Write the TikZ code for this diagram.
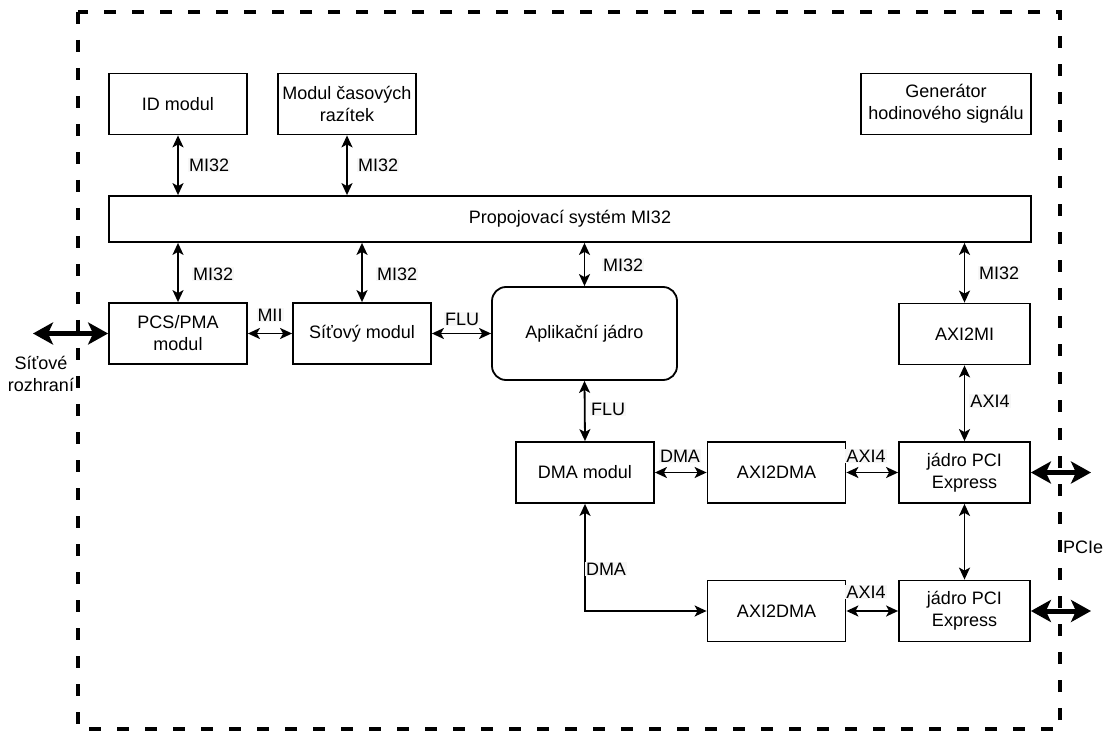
\documentclass[tikz,border=0pt]{standalone}
\usepackage{fontspec}
\setmainfont{Liberation Sans}
\usetikzlibrary{arrows.meta}
\begin{document}
\begin{tikzpicture}[x=1pt,y=-1pt,
  font=\fontsize{18}{22}\selectfont,
  blk/.style={draw,line width=1.8pt,minimum width=138pt,minimum height=61pt,align=center,inner sep=1pt},
  conn/.style={line width=1.8pt,{Stealth[length=12pt,width=11pt,inset=3pt]}-{Stealth[length=12pt,width=11pt,inset=3pt]}},
  thick/.style={line width=5pt,{Stealth[length=20pt,width=22pt,inset=5pt]}-{Stealth[length=20pt,width=22pt,inset=5pt]}},
  lbl/.style={fill=black!3,inner sep=1pt},
  ext/.style={inner sep=0pt,align=center}]
\useasboundingbox (0,0) rectangle (1109,735);
\draw[line width=4pt,dash pattern=on 12pt off 16pt] (78,12) rectangle (1060,729);

\node[blk] (id) at (178,104) {ID modul};
\node[blk] (ts) at (347,104) {Modul časových\\razítek};
\node[blk,minimum width=170pt] (gen) at (946,104) {Generátor\\hodinového signálu};
\node[blk,minimum width=922pt,minimum height=46pt] (bus) at (570,219) {Propojovací systém MI32};
\node[blk] (pcs) at (178,333.5) {PCS/PMA\\modul};
\node[blk] (net) at (362,333.5) {Síťový modul};
\node[blk,rounded corners=14pt,minimum width=185pt,minimum height=93pt] (app) at (584.5,333.5) {Aplikační jádro};
\node[blk,minimum width=131pt] (axmi) at (964.5,334) {AXI2MI};
\node[blk] (dma) at (585,472.5) {DMA modul};
\node[blk] (ad1) at (776.5,472.5) {AXI2DMA};
\node[blk] (ad2) at (776.5,611) {AXI2DMA};
\node[blk,minimum width=131pt] (pci1) at (964.5,472.5) {jádro PCI\\Express};
\node[blk,minimum width=131pt] (pci2) at (964.5,611) {jádro PCI\\Express};

% MI32 links
\draw[conn] (id.south) -- (id.south |- bus.north);
\draw[conn] (ts.south) -- (ts.south |- bus.north);
\draw[conn] (bus.south -| pcs.north) -- (pcs.north);
\draw[conn] (bus.south -| net.north) -- (net.north);
\draw[conn] (bus.south -| app.north) -- (app.north);
\draw[conn] (bus.south -| axmi.north) -- (axmi.north);
\node[lbl,anchor=west] (l1) at (188,165) {MI32};
\node[lbl,anchor=west] (l2) at (357,165) {MI32};
\node[lbl,anchor=west] (l3) at (192,274) {MI32};
\node[lbl,anchor=west] (l4) at (376,274) {MI32};
\node[lbl,anchor=west] (l5) at (602,265) {MI32};
\node[lbl,anchor=west] (l6) at (978,273) {MI32};

% horizontal links
\draw[conn] (pcs.east) -- (net.west);
\node[lbl] (lmii) at (270,315) {MII};
\draw[conn] (net.east) -- (net.east -| app.west);
\node[lbl] (lflu1) at (462,319) {FLU};
\draw[conn] (app.south) -- (dma.north);
\node[lbl] (lflu2) at (608,409) {FLU};
\draw[conn] (dma.east) -- (ad1.west);
\node[lbl] (ldma1) at (680,456) {DMA};
\draw[conn] (ad1.east) -- (pci1.west);
\node[lbl] (lax1) at (866,456) {AXI4};
\draw[conn] (ad2.east) -- (pci2.west);
\node[lbl] (lax2) at (866,592) {AXI4};
\draw[conn] (dma.south) |- (ad2.west);
\node[lbl] (ldma2) at (606,569) {DMA};
\draw[conn] (axmi.south) -- (pci1.north);
\node[lbl] (lax3) at (990,401) {AXI4};
\draw[conn] (pci1.south) -- (pci2.north);

% external interfaces
\coordinate (lext) at (33,333.5);
\coordinate (rext1) at (1091,472.5);
\coordinate (rext2) at (1091,611);
\draw[thick] (lext) -- (pcs.west);
\draw[thick] (pci1.east) -- (rext1);
\draw[thick] (pci2.east) -- (rext2);
\node[ext] (sr) at (41,374) {Síťové\\rozhraní};
\node[ext,anchor=west] (pcie) at (1063,547) {PCIe};
\end{tikzpicture}
\end{document}
